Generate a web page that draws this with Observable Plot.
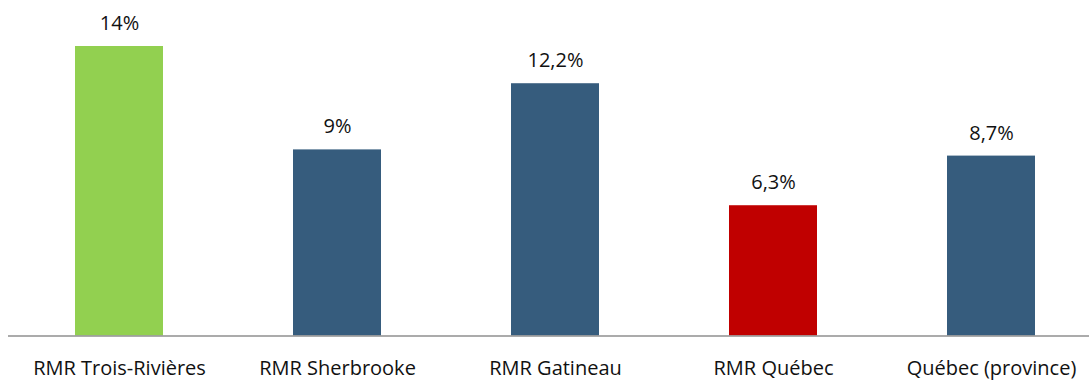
<!DOCTYPE html>
<html>
<head>
<meta charset="utf-8">
<script src="https://cdn.jsdelivr.net/npm/d3@7"></script>
<script src="https://cdn.jsdelivr.net/npm/@observablehq/plot@0.6"></script>
<style>
  html, body { margin: 0; padding: 0; background: #fff; }
  #chart svg { display: block; }
</style>
</head>
<body>
<div id="chart"></div>
<script>
const categories = ["RMR Trois-Rivières", "RMR Sherbrooke", "RMR Gatineau", "RMR Québec", "Québec (province)"];
const values = [14, 9, 12.2, 6.3, 8.7];
const valueLabels = ["14%", "9%", "12,2%", "6,3%", "8,7%"];

const barColors = ["#92D050", "#365C7D", "#365C7D", "#C00000", "#365C7D"];

const data = categories.map((c, i) => ({category: c, value: values[i], label: valueLabels[i]}));

const font = "'Open Sans', sans-serif";

const chart = Plot.plot({
  width: 1089,
  height: 380,
  marginLeft: 8,
  marginRight: 0,
  marginTop: 0,
  marginBottom: 44,
  style: {fontFamily: font, fontSize: "20px", color: "#000", background: "#fff"},
  x: {domain: categories, range: [8.75, 1101.25], paddingInner: 0.597, paddingOuter: 0.2985, label: null},
  y: {domain: [0, 14], range: [335.5, 46], axis: null},
  color: {domain: categories, range: barColors},
  marks: [
    Plot.barY(data, {x: "category", y: "value", fill: "category"}),
    Plot.ruleY([0], {stroke: "#8F8F8F", strokeWidth: 1.5}),
    Plot.text(data, {x: "category", y: "value", text: "label", dy: -23, lineAnchor: "middle", fontSize: 20, fill: "#111"}),
    Plot.axisX({tickSize: 0, tickPadding: 24, fontSize: 20, fill: "#111", label: null})
  ]
});
document.getElementById("chart").appendChild(chart);
</script>
</body>
</html>
